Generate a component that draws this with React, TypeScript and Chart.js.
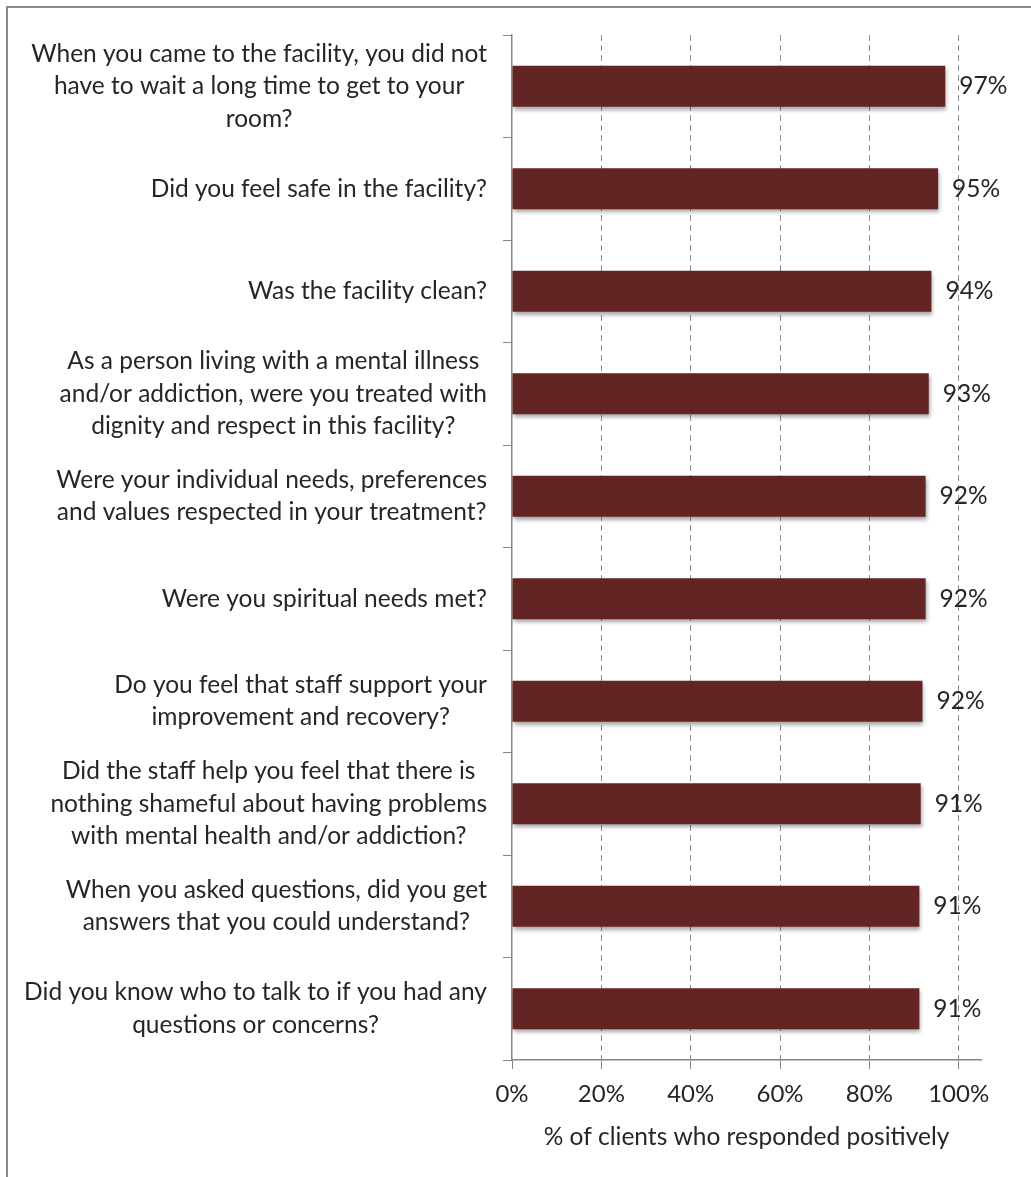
import React, { useEffect, useRef } from "react";
import { Chart, registerables } from "chart.js";

Chart.register(...registerables);

// ---------- data ----------
const categories: string[][] = [
  ["When you came to the facility, you did not", "have to wait a long time to get to your", "room?"],
  ["Did you feel safe in the facility?"],
  ["Was the facility clean?"],
  ["As a person living with a mental illness", "and/or addiction, were you treated with", "dignity and respect in this facility?"],
  ["Were your individual needs, preferences", "and values respected in your treatment?"],
  ["Were you spiritual needs met?"],
  ["Do you feel that staff support your", "improvement and recovery?"],
  ["Did the staff help you feel that there is", "nothing shameful about having problems", "with mental health and/or addiction?"],
  ["When you asked questions, did you get", "answers that you could understand?"],
  ["Did you know who to talk to if you had any", "questions or concerns?"],
];
const positiveValues: number[] = [97.0, 95.4, 93.9, 93.3, 92.6, 92.6, 91.9, 91.5, 91.2, 91.2];
const valueLabels: string[] = ["97%", "95%", "94%", "93%", "92%", "92%", "92%", "91%", "91%", "91%"];
const xTickValues: number[] = [0, 20, 40, 60, 80, 100];
const xAxisTitle = "% of clients who responded positively";

// ---------- styles ----------
const FONT = "Lato, 'Open Sans', sans-serif";
const LABEL_SIZE = 24.5;
const TICK_SIZE = 24;
const TEXT = "#262626";
const AXIS = "#868686";
const GRID = "#8f8f8f";
const BAR = "#632523";
const LINE_H = 32.5;

const bgBorderPlugin = {
  id: "bgBorder",
  beforeDraw(chart: any) {
    const c = chart.ctx;
    c.save();
    c.fillStyle = "#ffffff";
    c.fillRect(0, 0, chart.width, chart.height);
    c.strokeStyle = "#8a8a8a";
    c.lineWidth = 2;
    c.strokeRect(7, 7, chart.width + 20, chart.height + 20);
    c.restore();
  },
};

const shadowPlugin = {
  id: "barShadow",
  beforeDatasetsDraw(chart: any) {
    const c = chart.ctx;
    c.save();
    c.shadowColor = "rgba(0,0,0,0.35)";
    c.shadowBlur = 4;
    c.shadowOffsetX = 1;
    c.shadowOffsetY = 3;
  },
  afterDatasetsDraw(chart: any) {
    chart.ctx.restore();
  },
};

const labelsPlugin = {
  id: "customLabels",
  afterDraw(chart: any) {
    const c = chart.ctx;
    const yScale = chart.scales.y;
    c.save();
    c.font = `${LABEL_SIZE}px ${FONT}`;
    c.fillStyle = TEXT;
    c.textBaseline = "middle";
    c.textAlign = "center";
    const right = yScale.right - 25;
    categories.forEach((lines, i) => {
      const cy = yScale.getPixelForValue(i);
      const w = Math.max(...lines.map((l) => c.measureText(l).width));
      const cx = right - w / 2;
      lines.forEach((l, j) => {
        c.fillText(l, cx, cy + (j - (lines.length - 1) / 2) * LINE_H);
      });
    });
    const meta = chart.getDatasetMeta(0);
    c.textAlign = "left";
    meta.data.forEach((bar: any, i: number) => {
      c.fillText(valueLabels[i], bar.x + 14, bar.y);
    });
    c.restore();
  },
};

export default function App() {
  const ref = useRef<HTMLCanvasElement>(null);

  useEffect(() => {
    const chart = new Chart(ref.current as HTMLCanvasElement, {
      type: "bar",
      data: {
        labels: categories,
        datasets: [
          {
            data: positiveValues,
            backgroundColor: BAR,
            borderWidth: 0,
            barPercentage: 0.4,
            categoryPercentage: 1.0,
          },
        ],
      },
      options: {
        indexAxis: "y",
        responsive: false,
        animation: false,
        layout: { padding: { left: 0, top: 35, right: 50, bottom: 0 } },
        plugins: {
          legend: { display: false },
          tooltip: { enabled: false },
          title: { display: false },
        },
        scales: {
          x: {
            type: "linear",
            min: 0,
            max: 105,
            afterFit: (s: any) => {
              s.height = 117;
            },
            afterBuildTicks: (s: any) => {
              s.ticks = xTickValues.map((v) => ({ value: v }));
            },
            ticks: {
              includeBounds: false,
              autoSkip: false,
              maxRotation: 0,
              padding: 11,
              color: TEXT,
              font: { family: FONT, size: TICK_SIZE },
              callback: (v: any) => `${v}%`,
            },
            grid: {
              color: (ctx: any) => (ctx.tick && ctx.tick.value === 0 ? "rgba(0,0,0,0)" : GRID),
              lineWidth: 1,
              drawTicks: true,
              tickLength: 9,
              tickColor: AXIS,
            },
            border: { display: true, color: AXIS, width: 1.5, dash: [6, 4] },
            title: {
              display: true,
              text: xAxisTitle,
              color: TEXT,
              font: { family: FONT, size: LABEL_SIZE },
              padding: { top: 0, bottom: 25 },
            },
          },
          y: {
            type: "category",
            offset: true,
            afterFit: (s: any) => {
              s.width = 512;
            },
            ticks: { display: false },
            grid: {
              offset: true,
              drawOnChartArea: false,
              drawTicks: true,
              tickLength: 9,
              color: AXIS,
              tickColor: AXIS,
            },
            border: { display: true, color: AXIS, width: 1.5 },
          },
        },
      },
      plugins: [bgBorderPlugin, shadowPlugin, labelsPlugin],
    } as any);
    return () => chart.destroy();
  }, []);

  return (
    <div
      style={{
        position: "fixed",
        left: 0,
        top: 0,
        width: 1031,
        height: 1177,
        overflow: "hidden",
        background: "#fff",
      }}
    >
      <canvas ref={ref} width={1031} height={1177} style={{ display: "block", width: 1031, height: 1177 }} />
    </div>
  );
}
